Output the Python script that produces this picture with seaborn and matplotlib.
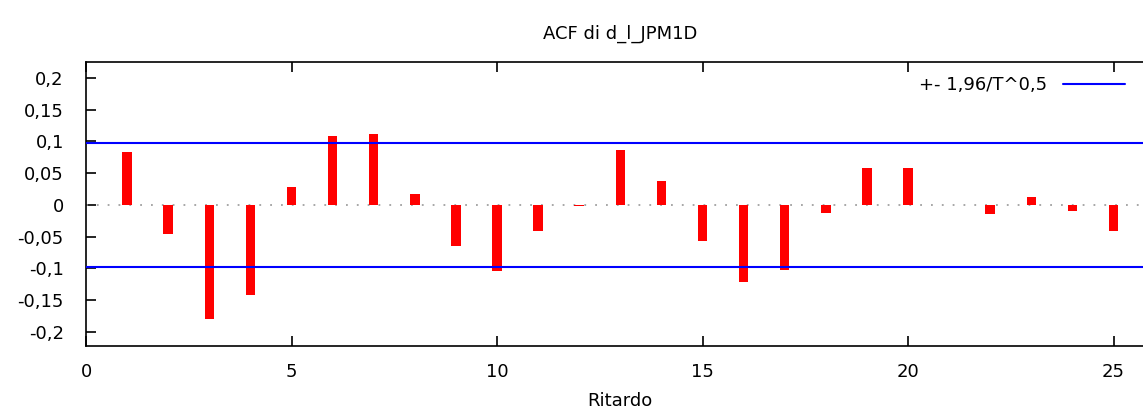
import matplotlib
matplotlib.use("Agg")
import matplotlib.pyplot as plt
import seaborn as sns

# ACF values
lags = list(range(1, 26))
acf = [0.084, -0.046, -0.180, -0.142, 0.029, 0.108, 0.111, 0.017, -0.064, -0.104,
       -0.041, -0.002, 0.087, 0.038, -0.057, -0.122, -0.102, -0.012, 0.058, 0.058,
       0.0, -0.015, 0.012, -0.009, -0.041]
band = 0.098
xticks = [0, 5, 10, 15, 20, 25]
yticks = [-0.2, -0.15, -0.1, -0.05, 0, 0.05, 0.1, 0.15, 0.2]
ytick_labels = ["-0,2", "-0,15", "-0,1", "-0,05", "0", "0,05", "0,1", "0,15", "0,2"]

sns.set_style("white")
plt.rcParams['font.family'] = ['DejaVu Sans']
plt.rcParams['text.color'] = 'black'
plt.rcParams['axes.labelcolor'] = 'black'

fig = plt.figure(figsize=(11.43, 4.15), dpi=100)
ax_w = 26 * 41.1
ax = fig.add_axes([86 / 1143, 69 / 415, ax_w / 1143, 284 / 415])

ax.axhline(0, color='#a0a0a0', lw=1.3, ls=(0, (1, 5)), zorder=1)
sns.barplot(x=lags, y=acf, native_scale=True, width=0.23, color='#ff0000',
            saturation=1, edgecolor='none', ax=ax, zorder=2)
ax.axhline(band, color='#0000ff', lw=1.5, label='+- 1,96/T^0,5', zorder=3)
ax.axhline(-band, color='#0000ff', lw=1.5, zorder=3)

ax.set_xlim(0, 26)
ax.set_ylim(-0.222, 0.225)
ax.set_xticks(xticks)
ax.set_xticklabels([str(t) for t in xticks])
ax.set_yticks(yticks)
ax.set_yticklabels(ytick_labels)
ax.tick_params(direction='in', length=7, width=1.2, top=True, right=True,
               bottom=True, left=True, labelsize=13, colors='black')
ax.tick_params(axis='y', pad=16)
ax.tick_params(axis='x', pad=12)
for s in ax.spines.values():
    s.set_color('black')
    s.set_linewidth(1.2)

ax.set_title('ACF di d_l_JPM1D', fontsize=13, pad=17, color='black')
ax.set_xlabel('Ritardo', fontsize=13, labelpad=8)
ax.set_ylabel('')

ax.legend(loc='upper right', bbox_to_anchor=((1138 - 86) / ax_w, 0.995),
          frameon=False, markerfirst=False, fontsize=13, handlelength=3.45,
          handletextpad=0.9, borderaxespad=0.3)

fig.savefig('out.png', dpi=100)
